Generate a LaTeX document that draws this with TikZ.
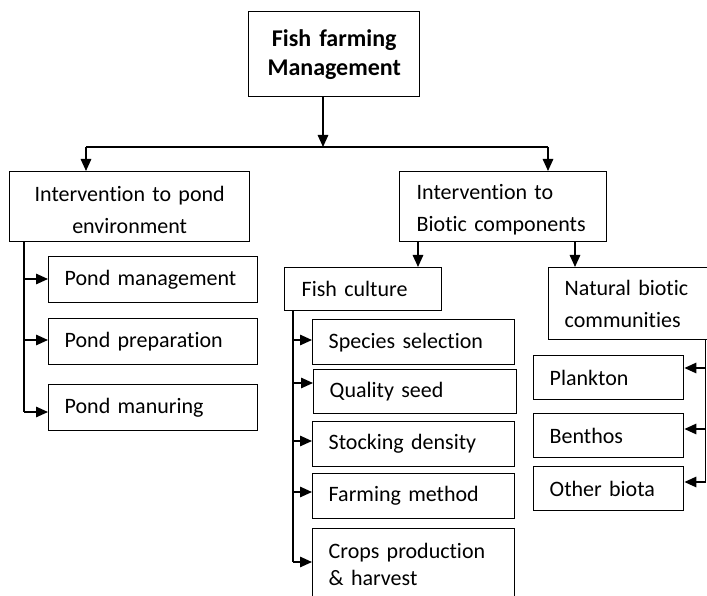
\documentclass[tikz,border=0pt]{standalone}
\usepackage{fontspec}
\setmainfont{Carlito}[Ligatures={NoCommon}]
\usetikzlibrary{arrows.meta}
\begin{document}
\begin{tikzpicture}[x=1pt,y=-1pt,
  line width=1.4pt,
  box/.style={draw, anchor=north west, inner xsep=16pt, inner ysep=0pt,
    align=left, font=\fontsize{22}{32}\selectfont},
  cbox/.style={box, align=center},
  titlebox/.style={draw, anchor=north west, inner xsep=8pt, inner ysep=0pt,
    align=center, font=\bfseries\fontsize{24}{29}\selectfont},
  arr/.style={-{Triangle[length=12pt,width=10.5pt]}},
]
\useasboundingbox (0,0) rectangle (707,596);
\clip (0,0) rectangle (707,596);

% top level
\node[titlebox, text width=155pt, minimum height=85pt] (top) at (248,11)
  {Fish farming\\Management};

% second level
\node[cbox, text width=208pt, minimum height=70pt] (lbox) at (9,171)
  {\rule{0pt}{22pt}Intervention to pond\\environment};
\node[box, inner xsep=17pt, text width=173pt, minimum height=70pt] (rbox) at (399,171)
  {\rule{0pt}{22pt}Intervention to\\Biotic components};

% pond environment branch
\node[box, text width=177pt, minimum height=46pt] (pmg) at (48,256) {Pond management};
\node[box, text width=177pt, minimum height=46pt] (pprep) at (48,318) {Pond preparation};
\node[box, text width=177pt, minimum height=46pt] (pman) at (48,384) {Pond manuring};

% biotic components branch
\node[box, inner xsep=17pt, text width=123pt, minimum height=43pt] (fish) at (284,267) {Fish culture};
\node[box, text width=132pt, minimum height=72pt] (nat) at (548,267)
  {Natural biotic\\communities};

\node[box, text width=170pt, minimum height=45pt] (spec) at (312,319) {Species selection};
\node[box, text width=171pt, minimum height=44pt] (qual) at (313,369) {Quality seed};
\node[box, text width=170pt, minimum height=45pt] (stock) at (312,421) {Stocking density};
\node[box, text width=170pt, minimum height=45pt] (farm) at (312,473) {Farming method};
\node[box, text width=170pt, minimum height=72pt,
  font=\fontsize{22}{27}\selectfont] (crops) at (312,528)
  {Crops production\\\& harvest};

\node[box, text width=118pt, minimum height=44pt] (plank) at (533,355) {Plankton};
\node[box, text width=118pt, minimum height=44pt] (benth) at (533,413) {Benthos};
\node[box, text width=118pt, minimum height=44pt] (other) at (533,466) {Other biota};

% junctions
\coordinate (j)  at (323,147);
\coordinate (jl) at (86,147);
\coordinate (jr) at (548,147);

\draw[arr] (j |- top.south) -- (j);
\draw (jl) -- (jr);
\draw[arr] (jl) -- (jl |- lbox.north);
\draw[arr] (jr) -- (jr |- rbox.north);

% left tree
\coordinate (l1) at (24,279);
\coordinate (l2) at (24,340);
\coordinate (l3) at (24,412);
\draw (l1 |- lbox.south) -- (l3);
\draw[arr] (l1) -- (l1 -| pmg.west);
\draw[arr] (l2) -- (l2 -| pprep.west);
\draw[arr] (l3) -- (l3 -| pman.west);

% biotic split
\coordinate (bf) at (418,0);
\coordinate (bn) at (575,0);
\draw[arr] (bf |- rbox.south) -- (bf |- fish.north);
\draw[arr] (bn |- rbox.south) -- (bn |- nat.north);

% fish culture tree
\coordinate (f1) at (293,340);
\coordinate (f2) at (293,383);
\coordinate (f3) at (293,441);
\coordinate (f4) at (293,492);
\coordinate (f5) at (293,562);
\draw (f1 |- fish.south) -- (f5);
\draw[arr] (f1) -- (f1 -| spec.west);
\draw[arr] (f2) -- (f2 -| qual.west);
\draw[arr] (f3) -- (f3 -| stock.west);
\draw[arr] (f4) -- (f4 -| farm.west);
\draw[arr] (f5) -- (f5 -| crops.west);

% natural communities tree
\coordinate (n1) at (705.5,368);
\coordinate (n2) at (705.5,429);
\coordinate (n3) at (705.5,482);
\draw (n1 |- nat.south) -- (n3);
\draw[arr] (n1) -- (n1 -| plank.east);
\draw[arr] (n2) -- (n2 -| benth.east);
\draw[arr] (n3) -- (n3 -| other.east);
\end{tikzpicture}
\end{document}
